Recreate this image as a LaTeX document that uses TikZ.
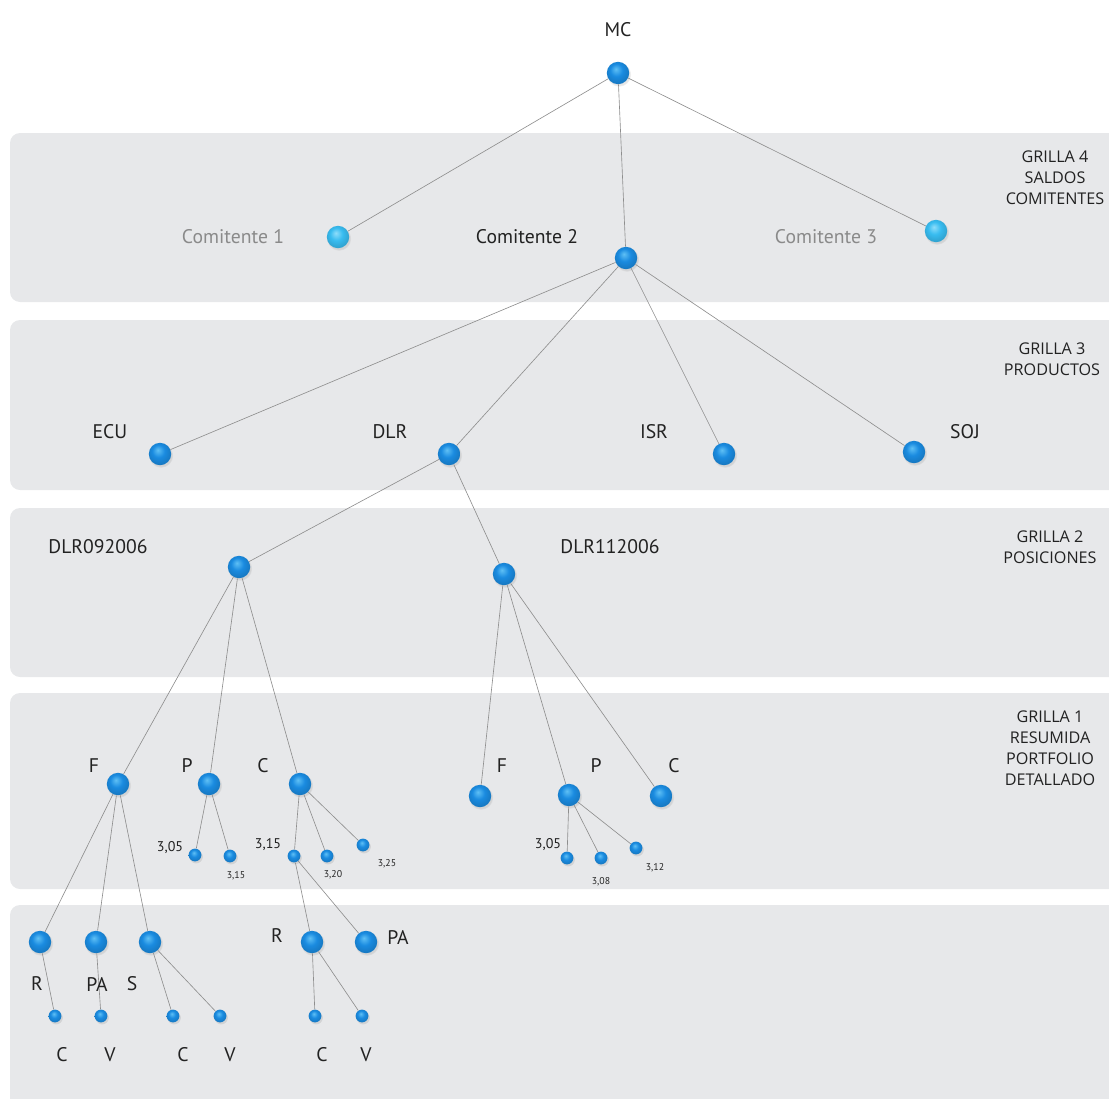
\documentclass[tikz,border=0pt]{standalone}
\usepackage{fontspec}
\setsansfont{PT Sans}
\newfontfamily\grillafont{Open Sans}
\usetikzlibrary{shadows}

\definecolor{bandgray}{HTML}{E7E8EA}
\definecolor{ballblue}{HTML}{1A8BE0}
\definecolor{ballhi}{HTML}{5FC0F5}
\definecolor{balllight}{HTML}{38BCF0}
\definecolor{balllighthi}{HTML}{8FDDFA}
\definecolor{linegray}{HTML}{8E8E8E}
\definecolor{txtdark}{HTML}{222222}
\definecolor{txtgray}{HTML}{8A8A8A}

\pgfdeclareradialshading{blueball}{\pgfpoint{-5bp}{9bp}}{color(0bp)=(ballhi); color(14bp)=(ballblue); color(26bp)=(ballblue!88!black); color(50bp)=(ballblue!75!black)}
\pgfdeclareradialshading{cyanball}{\pgfpoint{-5bp}{9bp}}{color(0bp)=(balllighthi); color(14bp)=(balllight); color(26bp)=(balllight!88!black); color(50bp)=(balllight!75!black)}

\begin{document}
\begin{tikzpicture}[x=0.025cm, y=-0.025cm,
    ball/.style={circle, inner sep=0pt, minimum size=0.56cm, shading=blueball,
      circular drop shadow={shadow xshift=0.6pt, shadow yshift=-1pt, opacity=0.2}},
    lightball/.style={ball, shading=cyanball},
    smallball/.style={ball, minimum size=0.32cm},
    edge/.style={draw=linegray, line width=0.45pt},
    band/.style={fill=bandgray, rounded corners=0.25cm},
    lbl/.style={font=\sffamily\fontsize{14}{16}\selectfont, text=txtdark, inner sep=0pt},
    num/.style={font=\sffamily\fontsize{10}{12}\selectfont, text=txtdark, inner sep=0pt},
    tinynum/.style={font=\sffamily\fontsize{7}{9}\selectfont, text=txtdark, inner sep=0pt},
    grilla/.style={font=\grillafont\fontsize{11.5}{15}\selectfont, text=txtdark, align=center, inner sep=0pt}]

    \useasboundingbox (0,0) rectangle (1109,1098);
    \clip (0,0) rectangle (1109,1098);

    % bandas grises
    \fill[band] (10,133) rectangle (1130,302);
    \fill[band] (10,320) rectangle (1130,490);
    \fill[band] (10,508) rectangle (1130,677);
    \fill[band] (10,693) rectangle (1130,889);
    \fill[band] (10,905) rectangle (1130,1120);

    % titulos de las grillas
    \node[grilla] (g4) at (1055,178) {GRILLA 4\\SALDOS\\COMITENTES};
    \node[grilla] (g3) at (1052,359) {GRILLA 3\\PRODUCTOS};
    \node[grilla] (g2) at (1050,547) {GRILLA 2\\POSICIONES};
    \node[grilla] (g1) at (1050,748) {GRILLA 1\\RESUMIDA\\PORTFOLIO\\DETALLADO};

    % raiz y comitentes
    \node[ball] (mc) at (618,73) {};
    \node[lightball] (c1) at (338,237) {};
    \node[ball] (c2) at (626,258) {};
    \node[lightball] (c3) at (936,231) {};

    % productos
    \node[ball] (ecu) at (160,454) {};
    \node[ball] (dlr) at (449,454) {};
    \node[ball] (isr) at (724,454) {};
    \node[ball] (soj) at (914,452) {};

    % posiciones
    \node[ball] (d09) at (239,567) {};
    \node[ball] (d11) at (504,574) {};

    % portfolio
    \node[ball] (f1) at (118,784) {};
    \node[ball] (p1) at (209,784) {};
    \node[ball] (cc1) at (300,784) {};
    \node[ball] (f2) at (480,796) {};
    \node[ball] (p2) at (569,795) {};
    \node[ball] (cc2) at (661,796) {};

    \node[smallball] (p1a) at (195,855) {};
    \node[smallball] (p1b) at (230,856) {};
    \node[smallball] (cc1a) at (294,856) {};
    \node[smallball] (cc1b) at (327,856) {};
    \node[smallball] (cc1c) at (363,845) {};
    \node[smallball] (p2a) at (567,858) {};
    \node[smallball] (p2b) at (601,858) {};
    \node[smallball] (p2c) at (636,848) {};

    % detalle
    \node[ball] (r1) at (40,942) {};
    \node[ball] (pa1) at (96,942) {};
    \node[ball] (s1) at (150,942) {};
    \node[ball] (r2) at (312,942) {};
    \node[ball] (pa2) at (366,942) {};

    \node[smallball] (r1c) at (55,1016) {};
    \node[smallball] (pa1v) at (101,1016) {};
    \node[smallball] (s1c) at (173,1016) {};
    \node[smallball] (s1v) at (220,1016) {};
    \node[smallball] (r2c) at (315,1016) {};
    \node[smallball] (r2v) at (362,1016) {};

    % conexiones
    \foreach \a/\b in {mc/c1, mc/c2, mc/c3,
        c2/ecu, c2/dlr, c2/isr, c2/soj,
        dlr/d09, dlr/d11,
        d09/f1, d09/p1, d09/cc1, d11/f2, d11/p2, d11/cc2,
        p1/p1a, p1/p1b, cc1/cc1a, cc1/cc1b, cc1/cc1c,
        p2/p2a, p2/p2b, p2/p2c,
        f1/r1, f1/pa1, f1/s1, cc1a/r2, cc1a/pa2,
        r1/r1c, pa1/pa1v, s1/s1c, s1/s1v, r2/r2c, r2/r2v}
        \draw[edge] (\a) -- (\b);

    % etiquetas
    \node[lbl] (lmc) at (618,30) {MC};
    \node[lbl, text=txtgray] (lc1) at (233,237) {Comitente 1};
    \node[lbl] (lc2) at (527,237) {Comitente 2};
    \node[lbl, text=txtgray] (lc3) at (826,237) {Comitente 3};

    \node[lbl] (lecu) at (110,432) {ECU};
    \node[lbl] (ldlr) at (390,432) {DLR};
    \node[lbl] (lisr) at (654,432) {ISR};
    \node[lbl] (lsoj) at (965,432) {SOJ};

    \node[lbl] (ld09) at (98,547) {DLR092006};
    \node[lbl] (ld11) at (610,547) {DLR112006};

    \node[lbl] (lf1) at (94,766) {F};
    \node[lbl] (lp1) at (187,766) {P};
    \node[lbl] (lcc1) at (263,766) {C};
    \node[lbl] (lf2) at (502,766) {F};
    \node[lbl] (lp2) at (596,766) {P};
    \node[lbl] (lcc2) at (674,766) {C};

    \node[num] (lp1a) at (170,848) {3,05};
    \node[tinynum] (lp1b) at (236,876) {3,15};
    \node[num] (lcc1a) at (268,845) {3,15};
    \node[tinynum] (lcc1b) at (333,875) {3,20};
    \node[tinynum] (lcc1c) at (387,864) {3,25};
    \node[num] (lp2a) at (548,845) {3,05};
    \node[tinynum] (lp2b) at (601,882) {3,08};
    \node[tinynum] (lp2c) at (655,868) {3,12};

    \node[lbl] (lr1) at (37,984) {R};
    \node[lbl] (lpa1) at (97,984) {PA};
    \node[lbl] (ls1) at (132,984) {S};
    \node[lbl] (lr2) at (277,936) {R};
    \node[lbl] (lpa2) at (398,937) {PA};

    \node[lbl] (lr1c) at (62,1055) {C};
    \node[lbl] (lpa1v) at (110,1055) {V};
    \node[lbl] (ls1c) at (183,1055) {C};
    \node[lbl] (ls1v) at (230,1055) {V};
    \node[lbl] (lr2c) at (322,1055) {C};
    \node[lbl] (lr2v) at (366,1055) {V};

\end{tikzpicture}
\end{document}
